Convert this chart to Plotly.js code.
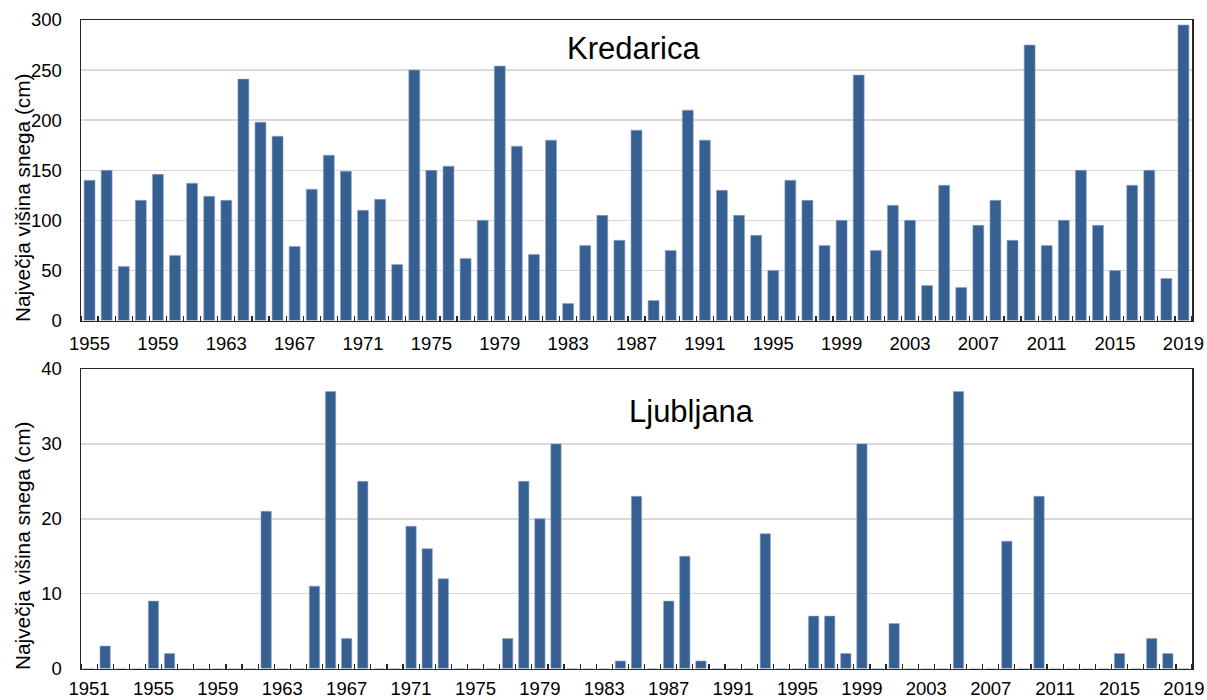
<!DOCTYPE html>
<html>
<head>
<meta charset="utf-8">
<script src="https://cdn.plot.ly/plotly-3.0.1.min.js"></script>
<style>html,body{margin:0;padding:0;background:#fff;}#chart{width:1207px;height:700px;}</style>
</head>
<body>
<div id="chart"></div>
<script>
// ---- Data ----
const kredaricaYears = [1955,1956,1957,1958,1959,1960,1961,1962,1963,1964,1965,1966,1967,1968,1969,1970,1971,1972,1973,1974,1975,1976,1977,1978,1979,1980,1981,1982,1983,1984,1985,1986,1987,1988,1989,1990,1991,1992,1993,1994,1995,1996,1997,1998,1999,2000,2001,2002,2003,2004,2005,2006,2007,2008,2009,2010,2011,2012,2013,2014,2015,2016,2017,2018,2019];
const kredaricaSnow = [140,150,54,120,146,65,137,124,120,241,198,184,74,131,165,149,110,121,56,250,150,154,62,100,254,174,66,180,17,75,105,80,190,20,70,210,180,130,105,85,50,140,120,75,100,245,70,115,100,35,135,33,95,120,80,275,75,100,150,95,50,135,150,42,295];
const kredaricaTickLabels = [1955,1959,1963,1967,1971,1975,1979,1983,1987,1991,1995,1999,2003,2007,2011,2015,2019];

const ljubljanaYears = [1951,1952,1953,1954,1955,1956,1957,1958,1959,1960,1961,1962,1963,1964,1965,1966,1967,1968,1969,1970,1971,1972,1973,1974,1975,1976,1977,1978,1979,1980,1981,1982,1983,1984,1985,1986,1987,1988,1989,1990,1991,1992,1993,1994,1995,1996,1997,1998,1999,2000,2001,2002,2003,2004,2005,2006,2007,2008,2009,2010,2011,2012,2013,2014,2015,2016,2017,2018,2019];
const ljubljanaSnow = [0,3,0,0,9,2,0,0,0,0,0,21,0,0,11,37,4,25,0,0,19,16,12,0,0,0,4,25,20,30,0,0,0,1,23,0,9,15,1,0,0,0,18,0,0,7,7,2,30,0,6,0,0,0,37,0,0,17,0,23,0,0,0,0,2,0,4,2,0];
const ljubljanaTickLabels = [1951,1955,1959,1963,1967,1971,1975,1979,1983,1987,1991,1995,1999,2003,2007,2011,2015,2019];

const yTitle = 'Največja višina snega (cm)';
const stationNames = ['Kredarica', 'Ljubljana'];

// ---- Style ----
const FONT = 'Liberation Sans, Arial, sans-serif';
const BAR = '#376092';
const tickFont = {family: FONT, size: 18.5, color: '#000'};

function xAxis(years, labels, anchor, standoff) {
  return {
    type: 'linear',
    range: [years[0] - 0.5, years[years.length - 1] + 0.5],
    tickmode: 'array',
    tickvals: labels,
    ticktext: labels.map(String),
    ticks: '',
    showgrid: false,
    zeroline: false,
    showline: true,
    linecolor: '#262626',
    linewidth: 1.5,
    mirror: true,
    tickfont: tickFont,
    ticklabelstandoff: standoff,
    anchor: anchor,
    minor: {
      ticks: 'inside',
      tick0: years[0] - 0.5,
      dtick: 1,
      ticklen: 5,
      tickwidth: 1.2,
      tickcolor: '#262626',
      showgrid: false
    }
  };
}

function yAxis(range, dtick, domain, anchor) {
  return {
    range: range,
    dtick: dtick,
    tick0: 0,
    domain: domain,
    anchor: anchor,
    showgrid: true,
    gridcolor: '#d9d9d9',
    gridwidth: 1.5,
    zeroline: false,
    showline: true,
    linecolor: '#262626',
    linewidth: 1.5,
    mirror: true,
    ticks: '',
    tickfont: tickFont,
    ticklabelstandoff: 14
  };
}

const traces = [
  {type: 'bar', x: kredaricaYears, y: kredaricaSnow, xaxis: 'x', yaxis: 'y',
   marker: {color: BAR, line: {width: 0.6, color: '#8ea6c8'}}, hoverinfo: 'x+y'},
  {type: 'bar', x: ljubljanaYears, y: ljubljanaSnow, xaxis: 'x2', yaxis: 'y2',
   marker: {color: BAR, line: {width: 0.6, color: '#8ea6c8'}}, hoverinfo: 'x+y'}
];

// pixel helpers: plot area spans x 81..1192, y 20..669
const H = 649, T = 20;
const py = p => 1 - (p - T) / H;

const layout = {
  width: 1207, height: 700,
  margin: {l: 81, r: 15, t: 20, b: 31},
  paper_bgcolor: '#fff', plot_bgcolor: '#fff',
  showlegend: false,
  bargap: 0.36,
  font: {family: FONT, color: '#000'},
  xaxis: xAxis(kredaricaYears, kredaricaTickLabels, 'y', 6),
  yaxis: yAxis([0, 300], 50, [py(320.5), 1], 'x'),
  xaxis2: xAxis(ljubljanaYears, ljubljanaTickLabels, 'y2', 3),
  yaxis2: yAxis([0, 40], 10, [py(668.5), py(369)], 'x2'),
  annotations: [
    {text: stationNames[0], xref: 'paper', yref: 'paper', x: (633 - 81) / 1111, y: py(48),
     xanchor: 'center', yanchor: 'middle', showarrow: false, font: {family: FONT, size: 31, color: '#000'}},
    {text: stationNames[1], xref: 'paper', yref: 'paper', x: (691 - 81) / 1111, y: py(411),
     xanchor: 'center', yanchor: 'middle', showarrow: false, font: {family: FONT, size: 31, color: '#000'}},
    {text: yTitle, xref: 'paper', yref: 'paper', x: (22 - 81) / 1111, y: py(198),
     xanchor: 'center', yanchor: 'middle', textangle: -90, showarrow: false, font: {family: FONT, size: 20.8, color: '#000'}},
    {text: yTitle, xref: 'paper', yref: 'paper', x: (22 - 81) / 1111, y: py(546),
     xanchor: 'center', yanchor: 'middle', textangle: -90, showarrow: false, font: {family: FONT, size: 20.8, color: '#000'}}
  ]
};

Plotly.newPlot('chart', traces, layout, {displayModeBar: false, staticPlot: true});
</script>
</body>
</html>
